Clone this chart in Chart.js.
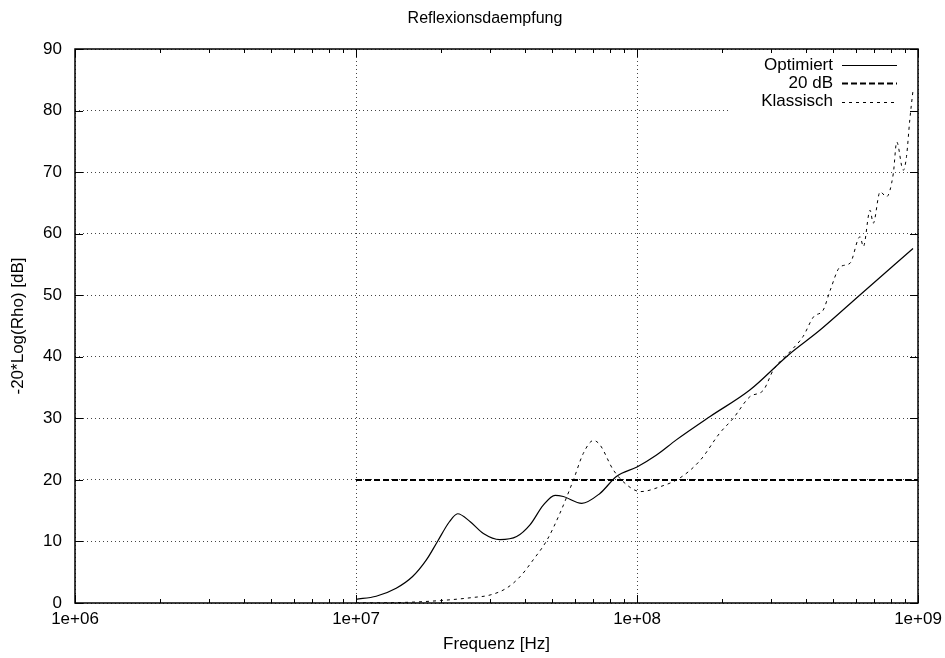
<!DOCTYPE html>
<html>
<head>
<meta charset="utf-8">
<script src="https://cdn.jsdelivr.net/npm/chart.js@4"></script>
<style>
  body { margin: 0; background: #fff; }
  canvas { display: block; }
</style>
</head>
<body>
<canvas id="chart" width="945" height="658"></canvas>
<script>
// Daten
const optFreq = [1e7, 1.18e7, 1.39e7, 1.59e7, 1.78e7, 1.95e7, 2.15e7, 2.30e7, 2.55e7, 2.84e7, 3.25e7, 3.73e7, 4.16e7, 4.64e7, 5.11e7, 5.47e7, 6.36e7, 7.38e7, 8.47e7, 1e8, 1.17e8, 1.38e8, 1.82e8, 2.52e8, 3.46e8, 4.47e8, 6.2e8, 9.6e8];
const optDb   = [0.6, 1.1, 2.4, 4.3, 7.0, 10.0, 13.2, 14.5, 13.2, 11.3, 10.3, 10.8, 12.7, 15.9, 17.5, 17.3, 16.2, 17.8, 20.6, 22.1, 24.0, 26.5, 30.3, 34.6, 40.3, 44.3, 50.0, 57.6];

const grenzFreq = [1e7, 1e9];
const grenzDb   = [20, 20];

const klassFreq = [1e7, 1.5e7, 2e7, 2.61e7, 3e7, 3.43e7, 3.84e7, 4.27e7, 4.78e7, 5.32e7, 5.94e7, 6.44e7, 7.0e7, 7.38e7, 8.24e7, 9.44e7, 1.03e8, 1.21e8, 1.42e8, 1.68e8, 1.97e8, 2.2e8, 2.52e8, 2.82e8, 3.06e8, 3.5e8, 3.9e8, 4.25e8, 4.6e8, 4.87e8, 5.28e8, 5.73e8, 6.22e8, 6.39e8, 6.75e8, 6.93e8, 7.33e8, 7.73e8, 8.17e8, 8.4e8, 8.86e8, 9.1e8, 9.35e8, 9.6e8];
const klassDb   = [0.0, 0.1, 0.4, 0.9, 1.3, 2.4, 4.3, 7.0, 10.2, 14.6, 20.0, 24.3, 26.4, 25.7, 21.6, 18.8, 18.1, 18.9, 20.3, 23.2, 27.6, 30.0, 33.5, 34.6, 37.9, 40.8, 43.3, 46.5, 47.6, 50.8, 54.6, 55.2, 59.5, 57.9, 63.8, 61.7, 66.8, 66.0, 69.8, 74.9, 70.3, 72.5, 78.5, 83.3];

const xMajorTicks = [1e6, 1e7, 1e8, 1e9];
const yTicks = [0, 10, 20, 30, 40, 50, 60, 70, 80, 90];
const legendLabels = ['Optimiert', '20 dB', 'Klassisch'];

const FONT = '"Liberation Sans", Arial, sans-serif';

function punkte(xs, ys) {
    return xs.map((x, i) => ({ x: x, y: ys[i] }));
}

// Rahmen, Ticks und Legende im gnuplot-Stil
const gnuplotStil = {
    id: 'gnuplotStil',
    afterLayout(chart) {
        // Titel wie bei gnuplot etwas nach rechts verschieben
        if (chart.titleBlock) chart.titleBlock.left += 52;
    },
    beforeDatasetsDraw(chart) {
        // Legendenbereich freiraeumen (Gitterlinien dort ausblenden)
        const ctx = chart.ctx;
        const a = chart.chartArea;
        ctx.save();
        ctx.fillStyle = '#fff';
        ctx.fillRect(731, a.top + 2, a.right - 732, 60);
        ctx.restore();
    },
    afterDraw(chart) {
        const ctx = chart.ctx;
        const a = chart.chartArea;
        const xs = chart.scales.x;
        const ys = chart.scales.y;
        ctx.save();
        ctx.strokeStyle = '#000';
        ctx.lineWidth = 1;
        ctx.beginPath();
        // x-Ticks (Haupt- und Nebenticks), unten und oben
        for (let d = 6; d <= 9; d++) {
            for (let k = 1; k <= 9; k++) {
                if (d === 9 && k > 1) break;
                let px = Math.round(xs.getPixelForValue(k * Math.pow(10, d))) + 0.5;
                let len = (k === 1) ? 8 : 4;
                ctx.moveTo(px, a.bottom);
                ctx.lineTo(px, a.bottom - len);
                ctx.moveTo(px, a.top);
                ctx.lineTo(px, a.top + len);
            }
        }
        // y-Ticks links und rechts
        for (let v of yTicks) {
            let py = Math.round(ys.getPixelForValue(v)) + 0.5;
            ctx.moveTo(a.left, py);
            ctx.lineTo(a.left + 8, py);
            ctx.moveTo(a.right, py);
            ctx.lineTo(a.right - 8, py);
        }
        ctx.stroke();

        // Rahmen
        ctx.lineWidth = 1.5;
        ctx.strokeRect(a.left, a.top, a.right - a.left, a.bottom - a.top);

        // Legende
        const ds = chart.data.datasets;
        ctx.font = '17px ' + FONT;
        ctx.fillStyle = '#000';
        ctx.textAlign = 'right';
        ctx.textBaseline = 'middle';
        for (let i = 0; i < ds.length; i++) {
            let y = 65 + i * 18.4;
            ctx.fillText(legendLabels[i], 833, y);
            ctx.beginPath();
            ctx.lineWidth = ds[i].borderWidth;
            ctx.setLineDash(ds[i].borderDash || []);
            ctx.moveTo(842, Math.round(y) + 0.5);
            ctx.lineTo(897, Math.round(y) + 0.5);
            ctx.stroke();
        }
        ctx.restore();
    }
};

const ctx = document.getElementById('chart').getContext('2d');
const chart = new Chart(ctx, {
    type: 'line',
    data: {
        datasets: [
            {
                label: legendLabels[0],
                data: punkte(optFreq, optDb),
                borderColor: '#000',
                borderWidth: 1.2,
                pointRadius: 0,
                cubicInterpolationMode: 'monotone',
                fill: false
            },
            {
                label: legendLabels[1],
                data: punkte(grenzFreq, grenzDb),
                borderColor: '#000',
                borderWidth: 2,
                borderDash: [6, 3],
                pointRadius: 0,
                fill: false
            },
            {
                label: legendLabels[2],
                data: punkte(klassFreq, klassDb),
                borderColor: '#000',
                borderWidth: 1,
                borderDash: [3, 4],
                pointRadius: 0,
                cubicInterpolationMode: 'monotone',
                fill: false
            }
        ]
    },
    options: {
        responsive: false,
        animation: false,
        layout: { padding: { left: 0, right: 27, top: 0, bottom: 0 } },
        plugins: {
            legend: { display: false },
            tooltip: { enabled: false },
            title: {
                display: true,
                text: 'Reflexionsdaempfung',
                color: '#000',
                font: { family: FONT, size: 16, weight: 'normal' },
                padding: { top: 9, bottom: 20.8 }
            }
        },
        scales: {
            x: {
                type: 'logarithmic',
                min: 1e6,
                max: 1e9,
                afterBuildTicks: (scale) => {
                    scale.ticks = xMajorTicks.map(v => ({ value: v }));
                },
                afterFit: (scale) => {
                    scale.height = 55;
                    scale.paddingLeft = 0;
                    scale.paddingRight = 0;
                },
                ticks: {
                    color: '#000',
                    font: { family: FONT, size: 17 },
                    padding: 6,
                    maxRotation: 0,
                    autoSkip: false,
                    callback: (v) => '1e+0' + Math.round(Math.log10(v))
                },
                grid: { color: '#444', drawTicks: false },
                border: { display: false, dash: [1, 3] },
                title: {
                    display: true,
                    text: 'Frequenz [Hz]',
                    color: '#000',
                    font: { family: FONT, size: 17 },
                    padding: { top: 0, bottom: 3 }
                }
            },
            y: {
                min: 0,
                max: 90,
                afterBuildTicks: (scale) => {
                    scale.ticks = yTicks.map(v => ({ value: v }));
                },
                afterFit: (scale) => { scale.width = 75; },
                ticks: {
                    color: '#000',
                    font: { family: FONT, size: 17 },
                    padding: 13
                },
                grid: { color: '#444', drawTicks: false },
                border: { display: false, dash: [1, 3] },
                title: {
                    display: true,
                    text: '-20*Log(Rho) [dB]',
                    color: '#000',
                    font: { family: FONT, size: 17 },
                    padding: { top: 8, bottom: 0 }
                }
            }
        }
    },
    plugins: [gnuplotStil]
});
</script>
</body>
</html>
